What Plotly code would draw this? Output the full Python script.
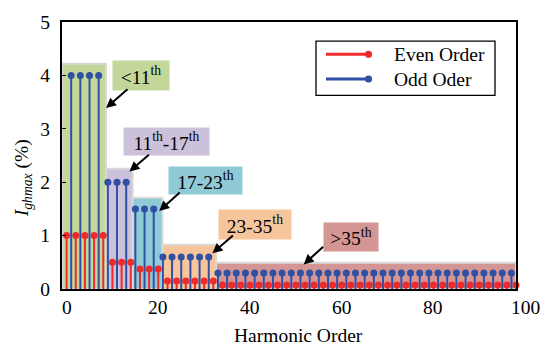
import plotly.graph_objects as go

# ---------------- data ----------------
even_x = [0, 2, 4, 6, 8, 10, 12, 14, 16, 18, 20, 22, 24, 26, 28, 30, 32, 34, 36, 38,
          40, 42, 44, 46, 48, 50, 52, 54, 56, 58, 60, 62, 64, 66, 68, 70, 72, 74, 76, 78,
          80, 82, 84, 86, 88, 90, 92, 94, 96, 98]
even_y = [1.0, 1.0, 1.0, 1.0, 1.0,
          0.5, 0.5, 0.5,
          0.375, 0.375, 0.375,
          0.15, 0.15, 0.15, 0.15, 0.15, 0.15,
          0.075, 0.075, 0.075, 0.075, 0.075, 0.075, 0.075, 0.075, 0.075, 0.075,
          0.075, 0.075, 0.075, 0.075, 0.075, 0.075, 0.075, 0.075, 0.075, 0.075,
          0.075, 0.075, 0.075, 0.075, 0.075, 0.075, 0.075, 0.075, 0.075, 0.075,
          0.075, 0.075, 0.075, 0.075]
odd_x = [1, 3, 5, 7, 9, 11, 13, 15, 17, 19, 21, 23, 25, 27, 29, 31, 33, 35, 37, 39,
         41, 43, 45, 47, 49, 51, 53, 55, 57, 59, 61, 63, 65, 67, 69, 71, 73, 75, 77, 79,
         81, 83, 85, 87, 89, 91, 93, 95, 97]
odd_y = [4.0, 4.0, 4.0, 4.0,
         2.0, 2.0, 2.0,
         1.5, 1.5, 1.5,
         0.6, 0.6, 0.6, 0.6, 0.6, 0.6,
         0.3, 0.3, 0.3, 0.3, 0.3, 0.3, 0.3, 0.3, 0.3, 0.3,
         0.3, 0.3, 0.3, 0.3, 0.3, 0.3, 0.3, 0.3, 0.3, 0.3,
         0.3, 0.3, 0.3, 0.3, 0.3, 0.3, 0.3, 0.3, 0.3, 0.3,
         0.3, 0.3, 0.3]
series_names = ["Even Order", "Odd Oder"]

# range bands (limits and heights)
band_x0 = [-1, 8.6, 14.4, 20.9, 32.6]
band_x1 = [8.6, 14.4, 20.9, 32.6, 98]
band_top = [4.22, 2.25, 1.71, 0.83, 0.49]
band_labels = ["&lt;11<sup>th</sup>", "11<sup>th</sup>-17<sup>th</sup>", "17-23<sup>th</sup>",
               "23-35<sup>th</sup>", "&gt;35<sup>th</sup>"]
# arrow tips (data coords)
arrow_x = [8.6, 13.7, 20.2, 31.8, 51.7]
arrow_y = [3.39, 2.2, 1.46, 0.67, 0.46]

x_ticks = [0, 20, 40, 60, 80, 100]
y_ticks = [0, 1, 2, 3, 4, 5]

# ---------------- style ----------------
W, H = 548, 347
L, R, T, B = 62, 516, 19, 289
FONT = "'Liberation Serif', 'Times New Roman', serif"
FS = 19.5
RED = "#ee2a2a"
BLUE = "#3050a4"
band_colors = ["#c4d79b", "#ccc1da", "#8fcad6", "#f6c59c", "#d49694"]
# label boxes in pixel: center x, center y, width, height
label_px = [(140.5, 73.5, 56, 29), (166.3, 139.5, 85, 27), (205.3, 179.7, 73, 27),
            (255, 223.3, 72, 29), (350.5, 236.7, 54, 28)]
arrow_off = [(23, -20), (21, -18), (22, -20), (22, -19), (21, -19)]
# legend geometry in px
LEG_BOX = (316, 38.3, 495, 93.3)
LEG_LINE_X = (326, 368.5)
LEG_ROW_Y = [51.7, 76.7]
LEG_TEXT_X = 391.5
XTICK_Y = 308


def px2paper_x(px):
    return (px - L) / (R - L)


def px2paper_y(py):
    return (B - py) / (B - T)


def stems(xs, ys):
    sx, sy = [], []
    for a, b in zip(xs, ys):
        sx += [a, a, None]
        sy += [0, b, None]
    return sx, sy


fig = go.Figure()

for xs, ys, col, name in [(even_x, even_y, RED, series_names[0]), (odd_x, odd_y, BLUE, series_names[1])]:
    sx, sy = stems(xs, ys)
    fig.add_trace(go.Scatter(x=sx, y=sy, mode="lines", line=dict(color=col, width=2),
                             showlegend=False, hoverinfo="skip"))
    fig.add_trace(go.Scatter(x=xs, y=ys, mode="markers", marker=dict(color=col, size=7),
                             showlegend=False, cliponaxis=False, name=name))

shapes = []
for x0, x1, top, col in zip(band_x0, band_x1, band_top, band_colors):
    shapes.append(dict(type="rect", xref="x", yref="y", x0=x0, x1=x1, y0=0, y1=top,
                       fillcolor=col, line=dict(color="#d9d9d9", width=2), layer="below"))

# manual legend
shapes.append(dict(type="rect", xref="paper", yref="paper",
                   x0=px2paper_x(LEG_BOX[0]), x1=px2paper_x(LEG_BOX[2]),
                   y0=px2paper_y(LEG_BOX[3]), y1=px2paper_y(LEG_BOX[1]),
                   fillcolor="white", line=dict(color="black", width=1.3), layer="above"))
annotations = []
for ry, col, name in zip(LEG_ROW_Y, [RED, BLUE], series_names):
    shapes.append(dict(type="line", xref="paper", yref="paper",
                       x0=px2paper_x(LEG_LINE_X[0]), x1=px2paper_x(LEG_LINE_X[1]),
                       y0=px2paper_y(ry), y1=px2paper_y(ry),
                       line=dict(color=col, width=3), layer="above"))
    r = 3.6
    shapes.append(dict(type="circle", xref="paper", yref="paper",
                       x0=px2paper_x(LEG_LINE_X[1] - r), x1=px2paper_x(LEG_LINE_X[1] + r),
                       y0=px2paper_y(ry + r), y1=px2paper_y(ry - r),
                       fillcolor=col, line=dict(color=col, width=0), layer="above"))
    annotations.append(dict(xref="paper", yref="paper", x=px2paper_x(LEG_TEXT_X), y=px2paper_y(ry),
                            text=name, showarrow=False, xanchor="left", yanchor="middle",
                            font=dict(family=FONT, size=FS, color="black")))

for (cx, cy, w, h), txt, col in zip(label_px, band_labels, band_colors):
    annotations.append(dict(xref="paper", yref="paper", x=px2paper_x(cx), y=px2paper_y(cy),
                            text=txt, showarrow=False, bgcolor=col, width=w, height=h,
                            borderpad=0, xanchor="center", yanchor="middle",
                            font=dict(family=FONT, size=FS, color="black")))
for ax_, ay_, (ox, oy) in zip(arrow_x, arrow_y, arrow_off):
    annotations.append(dict(xref="x", yref="y", x=ax_, y=ay_, ax=ox, ay=oy, text="",
                            showarrow=True, arrowhead=2, arrowsize=1, arrowwidth=2,
                            arrowcolor="black"))
# x tick labels (0..100, the last one lies just past the plotted range), positioned with the axis scale
px_per_unit = (R - L) / (98 - (-1))
for tv in x_ticks:
    tx = L + (tv - (-1)) * px_per_unit
    annotations.append(dict(xref="paper", yref="paper", x=px2paper_x(tx), y=px2paper_y(XTICK_Y),
                            text=str(tv), showarrow=False, yanchor="middle", xanchor="center",
                            font=dict(family=FONT, size=FS, color="black")))
# axis titles
annotations.append(dict(xref="paper", yref="paper", x=px2paper_x(298), y=px2paper_y(336),
                        text="Harmonic Order", showarrow=False, xanchor="center", yanchor="middle",
                        font=dict(family=FONT, size=FS, color="black")))
annotations.append(dict(xref="paper", yref="paper", x=px2paper_x(23), y=px2paper_y(177),
                        text="<i>I</i><sub><i>ghmax</i></sub> (%)", textangle=-90,
                        showarrow=False, xanchor="center", yanchor="middle",
                        font=dict(family=FONT, size=FS, color="black")))

fig.update_layout(
    width=W, height=H,
    margin=dict(l=L, r=W - R, t=T, b=H - B),
    paper_bgcolor="white", plot_bgcolor="white",
    font=dict(family=FONT, size=FS, color="black"),
    shapes=shapes, annotations=annotations,
    showlegend=False,
)
fig.update_xaxes(range=[-1, 98], tickvals=x_ticks, showticklabels=False, showgrid=False,
                 zeroline=False, showline=True, linecolor="black", linewidth=2, mirror=True,
                 ticks="")
fig.update_yaxes(range=[0, 5], tickvals=y_ticks, showgrid=False, zeroline=False,
                 showline=True, linecolor="black", linewidth=2, mirror=True,
                 ticks="inside", ticklen=4, tickcolor="black", ticklabelstandoff=6,
                 tickfont=dict(family=FONT, size=FS))

fig.write_html("out.html")
